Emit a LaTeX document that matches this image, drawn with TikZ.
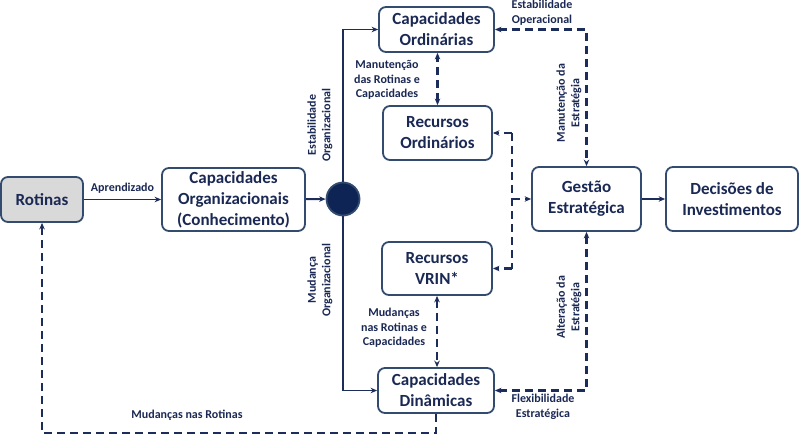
\documentclass[tikz,border=0pt]{standalone}
\usepackage{fontspec}
\setmainfont{Carlito}
\usetikzlibrary{arrows.meta}
\definecolor{navy}{RGB}{28,45,92}
\definecolor{txt}{RGB}{26,40,84}
\definecolor{bord}{RGB}{50,75,110}
\definecolor{gfill}{RGB}{217,217,217}
\definecolor{dot}{RGB}{14,36,84}
\begin{document}
\begin{tikzpicture}[x=1pt,y=-1pt,
 box/.style={draw=bord, line width=1.8pt, rounded corners=7pt, fill=white, align=center, text=txt, font=\fontsize{17}{21}\selectfont\bfseries, inner sep=0pt},
 lbl/.style={text=txt, font=\fontsize{12}{14.5}\selectfont\bfseries, align=center, inner sep=0pt},
 tip/.style={-{Stealth[length=6.5pt,width=5.5pt]}},
 conn/.style={draw=navy, line width=1.9pt, tip},
 dconn/.style={conn, line width=2.2pt, dash pattern=on 8pt off 5pt},
 both/.style={{Stealth[length=6.5pt,width=5.5pt]}-{Stealth[length=6.5pt,width=5.5pt]}},
]
\useasboundingbox (0,0) rectangle (799,433);
% nodes
\node[box, fill=gfill, minimum width=82pt, minimum height=45pt] (rot) at (42,199.5) {Rotinas};
\node[box, minimum width=143pt, minimum height=63pt] (cap) at (233.5,199.5) {Capacidades\\Organizacionais\\(Conhecimento)};
\node[circle, draw=bord, line width=1.8pt, fill=dot, minimum size=33pt, inner sep=0pt] (circ) at (343,199) {};
\node[box, minimum width=115pt, minimum height=45pt] (cord) at (436.5,29.5) {Capacidades\\Ordinárias};
\node[box, minimum width=109pt, minimum height=54pt] (rord) at (437.5,133) {Recursos\\Ordinários};
\node[box, minimum width=110pt, minimum height=53pt] (vrin) at (437,268.5) {Recursos\\VRIN*};
\node[box, minimum width=116pt, minimum height=45pt] (cdin) at (436,390.5) {Capacidades\\Dinâmicas};
\node[box, minimum width=109pt, minimum height=64pt] (gest) at (586.5,199) {Gestão\\Estratégica};
\node[box, minimum width=132pt, minimum height=64pt] (dec) at (732,199) {Decisões de\\Investimentos};
% solid connectors
\draw[conn] (rot) -- node[lbl, above=5pt]{Aprendizado} (cap);
\draw[conn] (cap) -- (circ);
\draw[conn] (circ.north) |- (cord.west);
\draw[conn] (circ.south) |- (cdin.west);
\draw[conn] (gest) -- (dec);
% dashed connectors
\draw[dconn, both] (rord.north) -- (rord.north |- cord.south);
\draw[dconn, both] (vrin.south) -- (vrin.south |- cdin.north);
\draw[dconn, both] (cord.east) -| (gest.north);
\draw[dconn, both] (cdin.east) -| (gest.south);
\coordinate (j1) at (512,133);
\coordinate (j2) at (512,268.5);
\coordinate (j3) at (512,199);
\draw[dconn, -] (j1) -- (j2);
\draw[dconn] (j1) -- (rord.east);
\draw[dconn] (j2) -- (vrin.east);
\draw[dconn] (j3) -- (gest.west);
\draw[dconn] (cdin.south) -- ++(0,19) -| (rot.south);
% labels
\node[lbl, rotate=90] (l1) at (320,125) {Estabilidade\\Organizacional};
\node[lbl, rotate=90] (l2) at (320,280) {Mudança\\Organizacional};
\node[lbl] (l3) at (387,80) {Manutenção\\das Rotinas e\\Capacidades};
\node[lbl] (l4) at (394,328) {Mudanças\\nas Rotinas e\\Capacidades};
\node[lbl] (l5) at (542,12.5) {Estabilidade\\Operacional};
\node[lbl, rotate=90] (l6) at (569,103) {Manutenção da\\Estratégia};
\node[lbl, rotate=90] (l7) at (569,307) {Alteração da\\Estratégia};
\node[lbl] (l8) at (543,407) {Flexibilidade\\Estratégica};
\node[lbl] (l9) at (187,415) {Mudanças nas Rotinas};
\end{tikzpicture}
\end{document}
